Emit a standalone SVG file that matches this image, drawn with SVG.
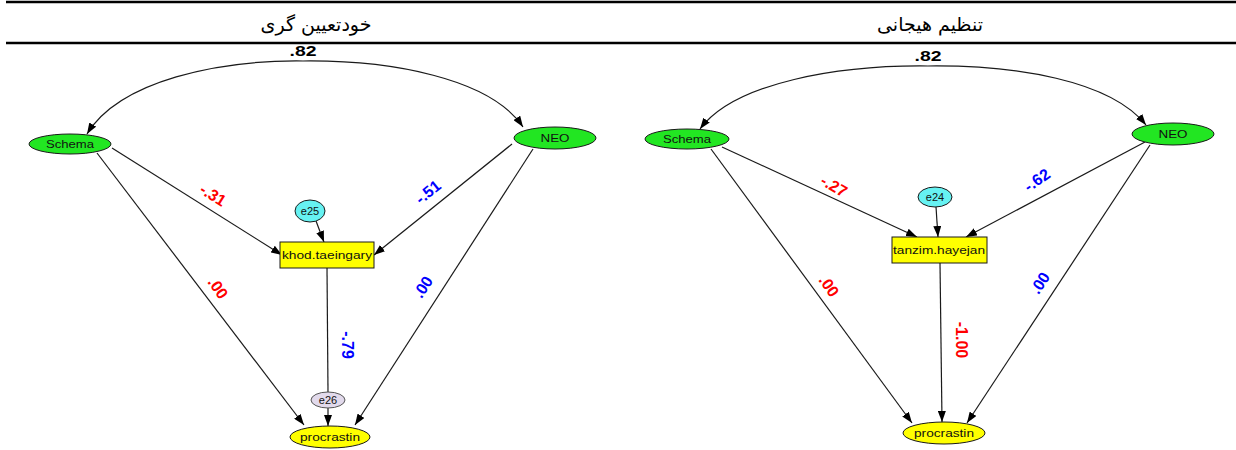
<svg xmlns="http://www.w3.org/2000/svg" width="1236" height="450" viewBox="0 0 1236 450">
  <style>
    .rule { stroke: #000; stroke-width: 2.4; }
    .title { font-family: "DejaVu Sans", "Noto Sans", sans-serif; font-size: 19px; fill: #000; text-anchor: middle; }
    .edge { fill: none; stroke: #1a1a1a; stroke-width: 1.2; marker-end: url(#arrow); }
    .edge-plain { fill: none; stroke: #1a1a1a; stroke-width: 1.2; }
    .latent { fill: #22e622; stroke: #1a1a1a; stroke-width: 1; }
    .obs { fill: #ffff00; stroke: #1a1a1a; stroke-width: 1; }
    .outcome { fill: #ffff00; stroke: #1a1a1a; stroke-width: 1; }
    .err { fill: #66f2f2; stroke: #1a1a1a; stroke-width: 1; }
    .err2 { fill: #e2daec; stroke: #555; stroke-width: 1; }
    .lbl { font-family: "Liberation Sans", Arial, sans-serif; font-size: 11px; fill: #111; text-anchor: middle; dominant-baseline: central; }
    .w { font-family: "Liberation Sans", Arial, sans-serif; font-size: 16px; font-weight: bold; text-anchor: middle; dominant-baseline: central; }
    .neg { fill: #ff0000; }
    .pos { fill: #0000ff; }
    .cov { fill: #000; font-size: 14px; }
  </style>
  <defs>
    <marker id="arrow" viewBox="0 0 11 8" refX="11" refY="4" markerWidth="11" markerHeight="8" markerUnits="userSpaceOnUse" orient="auto">
      <path d="M0,0 L11,4 L0,8 z" fill="#000"/>
    </marker>
  </defs>

  <!-- table rules and column headings -->
  <line class="rule" x1="6" y1="2" x2="1236" y2="2"/>
  <line class="rule" x1="6" y1="43" x2="1236" y2="43"/>
  <text class="title" x="316" y="31">خودتعیین گری</text>
  <text class="title" x="930" y="31">تنظیم هیجانی</text>

  <!-- connectors -->
  <g id="connectors">
    <!-- left model -->
    <path class="edge" d="M303,61 C220,60 120,80 87,134"/>
    <path class="edge" d="M303,61 C390,60 490,78 523,127"/>
    <line class="edge" x1="112" y1="148" x2="282" y2="255"/>
    <line class="edge" x1="512" y1="144" x2="374" y2="255"/>
    <line class="edge" x1="316" y1="221" x2="324" y2="242"/>
    <line class="edge-plain" x1="327" y1="268" x2="328" y2="392"/>
    <line class="edge" x1="328" y1="408" x2="328" y2="426"/>
    <line class="edge" x1="97" y1="153" x2="304" y2="425"/>
    <line class="edge" x1="533" y1="149" x2="355" y2="425"/>

    <!-- right model -->
    <path class="edge" d="M928,66 C840,65 735,82 700,129"/>
    <path class="edge" d="M928,66 C1015,65 1110,80 1146,125"/>
    <line class="edge" x1="722" y1="147" x2="917" y2="237"/>
    <line class="edge" x1="1145" y1="142" x2="966" y2="237"/>
    <line class="edge" x1="936" y1="207" x2="938" y2="237"/>
    <line class="edge" x1="940" y1="263" x2="942" y2="422"/>
    <line class="edge" x1="711" y1="149" x2="912" y2="423"/>
    <line class="edge" x1="1150" y1="145" x2="967" y2="423"/>
  </g>

  <!-- path weights -->
  <g id="weights">
    <text class="w cov" x="303" y="51" textLength="27" lengthAdjust="spacingAndGlyphs">.82</text>
    <text class="w neg" x="213" y="195" transform="rotate(32 213 195)">-.31</text>
    <text class="w pos" x="428" y="192" transform="rotate(-39 428 192)">-.51</text>
    <text class="w neg" x="218" y="288" transform="rotate(55 218 288)">.00</text>
    <text class="w pos" x="423" y="287" transform="rotate(-57 423 287)">.00</text>
    <text class="w pos" x="347" y="345" transform="rotate(90 347 345)">-.79</text>

    <text class="w cov" x="928" y="56" textLength="27" lengthAdjust="spacingAndGlyphs">.82</text>
    <text class="w neg" x="834" y="186" transform="rotate(30 834 186)">-.27</text>
    <text class="w pos" x="1037" y="180" transform="rotate(-35 1037 180)">-.62</text>
    <text class="w neg" x="829" y="286" transform="rotate(55 829 286)">.00</text>
    <text class="w pos" x="1040" y="283" transform="rotate(-57 1040 283)">.00</text>
    <text class="w neg" x="961" y="340" transform="rotate(90 961 340)">-1.00</text>
  </g>

  <!-- left model nodes -->
  <g id="schema-a">
    <ellipse class="latent" cx="70" cy="144" rx="41" ry="10"/>
    <text class="lbl" x="70" y="144" textLength="48" lengthAdjust="spacingAndGlyphs">Schema</text>
  </g>
  <g id="neo-a">
    <ellipse class="latent" cx="555" cy="138" rx="41" ry="11"/>
    <text class="lbl" x="555" y="138" textLength="29" lengthAdjust="spacingAndGlyphs">NEO</text>
  </g>
  <g id="e25">
    <ellipse class="err" cx="310" cy="211" rx="15" ry="11"/>
    <text class="lbl" x="310" y="211">e25</text>
  </g>
  <g id="khod-taeingary">
    <rect class="obs" x="280" y="242" width="94" height="26"/>
    <text class="lbl" x="327" y="255" textLength="90" lengthAdjust="spacingAndGlyphs">khod.taeingary</text>
  </g>
  <g id="e26">
    <ellipse class="err2" cx="328" cy="400" rx="17" ry="8"/>
    <text class="lbl" x="328" y="400">e26</text>
  </g>
  <g id="procrastin-a">
    <ellipse class="outcome" cx="330" cy="437" rx="40" ry="11"/>
    <text class="lbl" x="330" y="437" textLength="60" lengthAdjust="spacingAndGlyphs">procrastin</text>
  </g>

  <!-- right model nodes -->
  <g id="schema-b">
    <ellipse class="latent" cx="687" cy="139" rx="42" ry="10"/>
    <text class="lbl" x="687" y="139" textLength="48" lengthAdjust="spacingAndGlyphs">Schema</text>
  </g>
  <g id="neo-b">
    <ellipse class="latent" cx="1173" cy="134" rx="41" ry="11"/>
    <text class="lbl" x="1173" y="134" textLength="29" lengthAdjust="spacingAndGlyphs">NEO</text>
  </g>
  <g id="e24">
    <ellipse class="err" cx="935" cy="197" rx="17" ry="10"/>
    <text class="lbl" x="935" y="197">e24</text>
  </g>
  <g id="tanzim-hayejan">
    <rect class="obs" x="892" y="237" width="95" height="26"/>
    <text class="lbl" x="939" y="250" textLength="92" lengthAdjust="spacingAndGlyphs">tanzim.hayejan</text>
  </g>
  <g id="procrastin-b">
    <ellipse class="outcome" cx="944" cy="433" rx="41" ry="11"/>
    <text class="lbl" x="944" y="433" textLength="60" lengthAdjust="spacingAndGlyphs">procrastin</text>
  </g>
</svg>
